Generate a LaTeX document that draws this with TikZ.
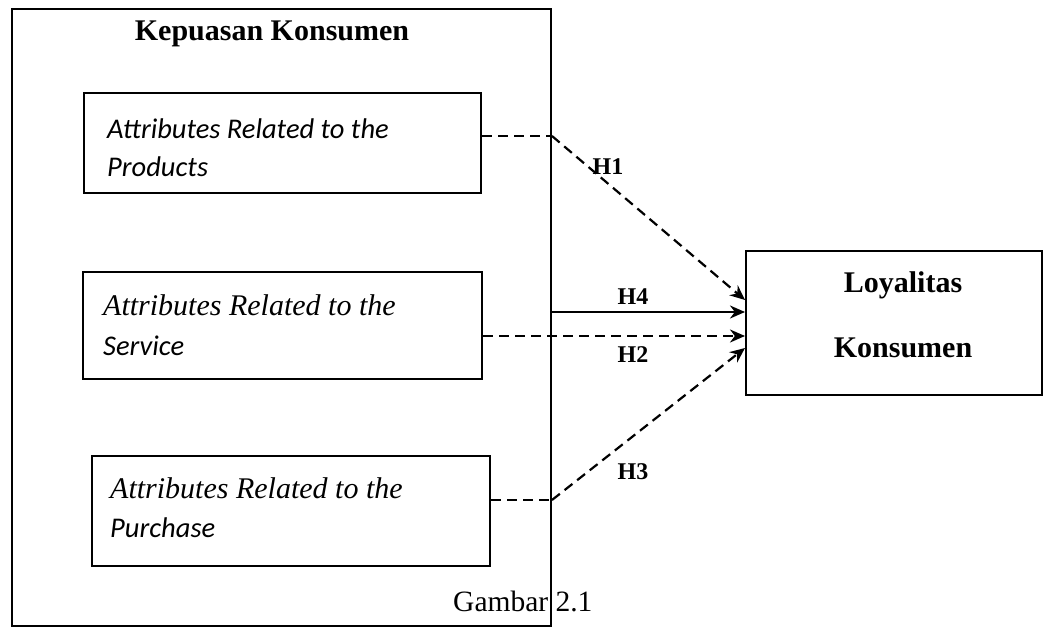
\documentclass[tikz,border=0pt]{standalone}
\usepackage{fontspec}
\setmainfont{Liberation Serif}
\newfontfamily\calibri{Carlito}
\usetikzlibrary{arrows.meta,calc}
\begin{document}
\begin{tikzpicture}[x=1pt,y=-1pt,
  box/.style={draw, line width=2pt, inner sep=0pt},
  tx/.style={anchor=base west, inner sep=0pt, font=\fontsize{30}{36}\selectfont\itshape},
  ctx/.style={anchor=base west, inner sep=0pt, font=\calibri\fontsize{28.5}{34}\selectfont\itshape},
  bt/.style={anchor=base, inner sep=0pt, font=\fontsize{30}{36}\selectfont\bfseries},
  hl/.style={font=\fontsize{24}{28}\selectfont\bfseries, inner sep=0pt},
  conn/.style={line width=2.2pt},
  dsh/.style={conn, dash pattern=on 10pt off 6pt},
  tip/.style={-{Stealth[length=15pt,width=13pt]}}
]
\useasboundingbox (0,0) rectangle (1055,629);
\fill[white] (0,0) rectangle (1055,629);

% outer box
\node[box, minimum width=539pt, minimum height=617pt] (outer) at (281.5,317.5) {};
\node[bt] (title) at (272,40) {Kepuasan Konsumen};

% inner boxes
\node[box, minimum width=397pt, minimum height=100pt] (b1) at (282.5,143) {};
\node[ctx] (b1a) at (107,138) {Attributes Related to the};
\node[ctx] (b1b) at (107,176) {Products};

\node[box, minimum width=399pt, minimum height=107pt] (b2) at (282.5,325.5) {};
\node[tx] (b2a) at (103,315) {Attributes Related to the};
\node[ctx] (b2b) at (103,355) {Service};

\node[box, minimum width=398pt, minimum height=110pt] (b3) at (291,511) {};
\node[tx] (b3a) at (110,498) {Attributes Related to the};
\node[ctx] (b3b) at (110,537) {Purchase};

\node[anchor=base west, inner sep=0pt, font=\fontsize{29.5}{34}\selectfont] (gb) at (453,611) {Gambar 2.1};

% target box
\node[box, minimum width=296pt, minimum height=144pt] (L) at (894,323) {};
\node[bt] (La) at (903,292) {Loyalitas};
\node[bt] (Lb) at (903,357) {Konsumen};

% junctions on the outer border
\coordinate (j1) at ([yshift=7pt]b1.east -| outer.east);
\coordinate (j3) at ([yshift=11pt]b3.east -| outer.east);

% connectors
\draw[dsh] ([yshift=7pt]b1.east) -- (j1);
\draw[dsh,tip] (j1) -- ([yshift=23pt]L.west);
\draw[conn,tip] ([yshift=11pt]L.west -| outer.east) -- ([yshift=11pt]L.west);
\draw[dsh,tip] ([yshift=-10.5pt]b2.east) -- ([yshift=-10.5pt]b2.east -| L.west);
\draw[dsh] ([yshift=11pt]b3.east) -- (j3);
\draw[dsh,tip] (j3) -- ([yshift=-25pt]L.west);

% labels
\node[hl] (h1) at (608,167) {H1};
\node[hl] (h4) at (633,297) {H4};
\node[hl] (h2) at (633,355) {H2};
\node[hl] (h3) at (633,472) {H3};
\end{tikzpicture}
\end{document}
